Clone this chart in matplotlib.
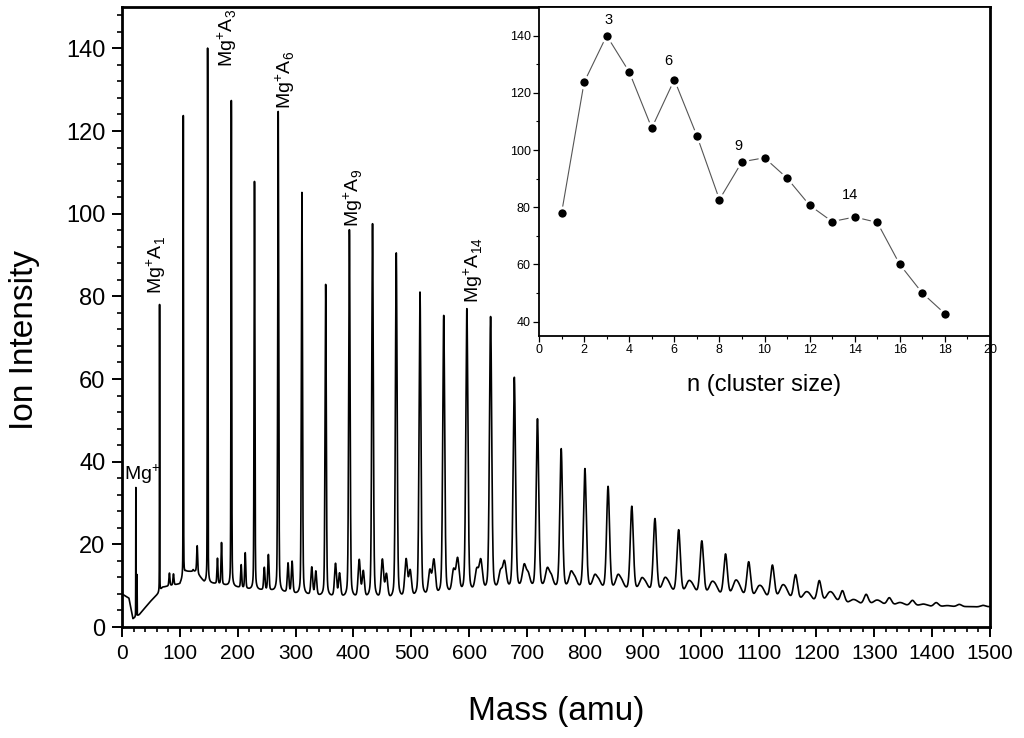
"""Mg+ A_n cluster mass spectrum with cluster-size inset."""
import numpy as np
import matplotlib
matplotlib.use("Agg")
import matplotlib.pyplot as plt

plt.rcParams["font.family"] = ["Liberation Sans", "DejaVu Sans"]
plt.rcParams["mathtext.fontset"] = "custom"
plt.rcParams["mathtext.rm"] = "Liberation Sans"

# Mg+ A_n cluster peaks, n = 1..36 (mass in amu, peak-top intensity)
cluster_n = list(range(1, 37))
peak_mass = [65, 106, 148, 189, 229, 270, 311, 352, 393, 433, 474, 515,
             556, 596, 637, 678, 718, 759, 800, 840, 881, 921, 962, 1002,
             1043, 1083, 1124, 1164, 1205, 1245, 1286, 1326, 1366, 1407, 1447, 1488]
peak_top = [78.0, 123.7, 140.0, 127.3, 107.7, 124.6, 105.0, 82.7, 95.9, 97.3,
            90.2, 80.7, 75.0, 76.6, 74.7, 60.0, 50.0, 42.8, 38.0, 33.7,
            28.9, 25.9, 23.2, 20.5, 17.3, 15.4, 14.6, 12.3, 10.9, 8.5,
            7.7, 6.9, 6.3, 5.8, 5.4, 5.2]
# small satellite peaks after each cluster peak (about +17 and +24 amu), peak tops
side_a_top = [13.0, 13.8, 16.5, 14.9, 14.2, 15.2, 14.2, 15.0, 15.8, 15.8,
              15.8, 13.0, 13.0, 13.0, 12.5, 14.2, 13.4, 12.6, 11.8, 11.8,
              11.0, 11.0, 10.2, 9.9, 10.2, 8.8, 9.0, 7.5, 7.5, 6.1,
              6.0, 5.6, 5.3, 5.0, 4.9, 4.9]
side_b_top = [12.8, 19.6, 20.3, 17.8, 17.3, 15.6, 13.2, 12.6, 13.0, 12.2,
              13.0, 15.6, 15.8, 15.4, 15.0, 12.0, 11.5, 11.0, 10.5, 10.2,
              9.8, 9.6, 9.2, 9.0, 8.6, 8.2, 7.8, 7.0, 6.8, 5.8,
              5.6, 5.2, 5.0, 4.9, 4.8, 4.8]
# bare Mg+ isotopes (mass, peak top)
mg_mass = [24, 26]
mg_top = [33.7, 12.6]
# background level under the peaks (mass, intensity)
base_mass = [0, 12, 19, 30, 48, 62, 70, 100, 110, 128, 142, 180, 220, 260, 300,
             350, 385, 465, 520, 560, 600, 640, 700, 800, 900, 1000, 1100, 1200,
             1300, 1400, 1500]
base_level = [8.0, 7.0, 2.0, 3.0, 6.0, 8.0, 9.6, 10.4, 13.4, 13.4, 10.8, 10.0, 9.0,
              8.6, 7.8, 7.2, 6.9, 6.4, 7.0, 7.5, 7.9, 8.3, 8.8, 8.8, 8.2, 7.4, 6.4,
              5.5, 5.0, 4.7, 4.8]

labelled_n = [1, 3, 6, 9, 14]
inset_labels = [3, 6, 9, 14]

RESOLUTION = 140.0  # m / FWHM
ETA = 0.3           # Lorentzian fraction of the peak shape


def peak(x, center, amp, hwhm):
    lor = hwhm ** 2 / ((x - center) ** 2 + hwhm ** 2)
    gau = np.exp(-np.log(2) * ((x - center) / hwhm) ** 2)
    return amp * (ETA * lor + (1 - ETA) * gau)


mass = np.arange(0, 1500.01, 0.05)
spectrum = np.interp(mass, base_mass, base_level)
for m, top in zip(mg_mass, mg_top):
    spectrum += peak(mass, m, top - np.interp(m, base_mass, base_level), 0.2)
for m, top, sa, sb in zip(peak_mass, peak_top, side_a_top, side_b_top):
    g = max(m / RESOLUTION / 2, 0.25)
    spectrum += peak(mass, m, top - np.interp(m, base_mass, base_level), g)
    for off, st in ((17, sa), (24, sb)):
        amp = st - np.interp(m + off, base_mass, base_level)
        if amp > 0:
            spectrum += peak(mass, m + off, amp, max(g * 1.6, 1.0))

fig = plt.figure(figsize=(10.24, 7.38), dpi=100)
ax = fig.add_axes([0.1191, 0.1504, 0.8477, 0.8401])
ax.plot(mass, spectrum, color="black", lw=1.2)
ax.set_xlim(0, 1500)
ax.set_ylim(0, 150)
ax.set_xticks(np.arange(0, 1501, 100))
ax.set_xticks(np.arange(0, 1501, 20), minor=True)
ax.set_yticks(np.arange(0, 141, 20))
ax.set_yticks(np.arange(0, 150, 4), minor=True)
for s in ax.spines.values():
    s.set_linewidth(2.0)
ax.tick_params(which="major", direction="out", length=7, width=1.4, labelsize=17, pad=5)
ax.tick_params(which="minor", direction="out", length=3.5, width=1.2)
ax.tick_params(axis="x", which="major", labelsize=15)
ax.set_xlabel("Mass (amu)", fontsize=24)
ax.set_ylabel("Ion Intensity", fontsize=24)
ax.xaxis.set_label_coords(0.5, -0.112)
ax.yaxis.set_label_coords(-0.094, 0.463)

ax.text(3, 35.6, r"Mg$^{\mathregular{+}}$", fontsize=14, ha="left", va="baseline")
label_pos = {1: (59, 80.5), 3: (182, 135.5), 6: (281, 125.3), 9: (400, 96.8), 14: (606, 78.3)}
for n in labelled_n:
    x, y = label_pos[n]
    ax.text(x, y, r"Mg$^{\mathregular{+}}$A$_{\mathregular{%d}}$" % n, fontsize=14,
            rotation=90, ha="center", va="bottom")

# inset: cluster-size distribution
ins = fig.add_axes([0.5264, 0.5447, 0.4404, 0.4458])
inset_n = cluster_n[:18]
inset_int = peak_top[:18]
ins.plot(inset_n, inset_int, color="#555555", lw=0.8, marker="o", ms=8,
         mfc="black", mec="white", mew=2)
ins.set_xlim(0, 20)
ins.set_ylim(35, 150)
ins.set_xticks(np.arange(0, 21, 2))
ins.set_xticks(np.arange(1, 20, 2), minor=True)
ins.set_yticks(np.arange(40, 141, 20))
ins.set_yticks(np.arange(50, 150, 20), minor=True)
for s in ins.spines.values():
    s.set_linewidth(1.3)
ins.tick_params(which="major", direction="out", length=4, width=0.9, labelsize=9, pad=2)
ins.tick_params(which="minor", direction="out", length=2, width=0.8)
ins.set_xlabel("n (cluster size)", fontsize=17, labelpad=13)
inset_label_pos = {3: (3.1, 145.4), 6: (5.75, 131.0), 9: (8.85, 101.5), 14: (13.8, 84.2)}
for n in inset_labels:
    x, y = inset_label_pos[n]
    ins.text(x, y, str(n), fontsize=10.5, ha="center", va="center")

fig.savefig("out.png", dpi=100)
